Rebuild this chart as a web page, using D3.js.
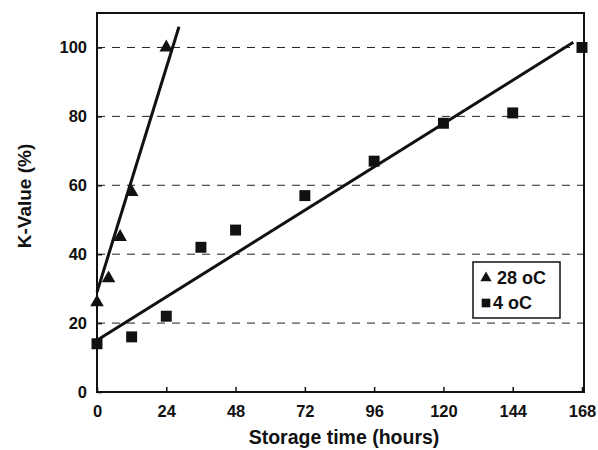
<!DOCTYPE html>
<html>
<head>
<meta charset="utf-8">
<title>K-Value vs storage time</title>
<script src="https://d3js.org/d3.v7.min.js"></script>
<style>
  body { margin: 0; background: #fff; }
  text { font-family: "Liberation Sans", Arial, sans-serif; font-weight: bold; fill: #111; }
</style>
</head>
<body>
<div id="main"></div>
<script>
	var width  = 598;
	var height = 450;
	var margin = {left: 97, top: 13, right: 14, bottom: 58};
	var innerWidth  = width - margin.left - margin.right;
	var innerHeight = height - margin.top - margin.bottom;

	// data
	var hours28 = [0, 4, 8, 12, 24];
	var kval28  = [26, 33, 45, 58, 100];
	var hours4  = [0, 12, 24, 36, 48, 72, 96, 120, 144, 168];
	var kval4   = [14, 16, 22, 42, 47, 57, 67, 78, 81, 100];
	// fitted lines as drawn (end points)
	var fit28 = [[0, 29], [28.4, 106]];
	var fit4  = [[0, 15], [165, 101.5]];
	var xTicks = [0, 24, 48, 72, 96, 120, 144, 168];
	var yTicks = [0, 20, 40, 60, 80, 100];
	var gridTicks = [20, 40, 60, 80, 100];

	var xScale = d3.scaleLinear().domain([0, 168]).range([0, innerWidth - 2]);
	var yScale = d3.scaleLinear().domain([0, 110]).range([innerHeight, 0]);

	var svg = d3.select("#main").append("svg")
		.attr("width", width)
		.attr("height", height);

	var g = svg.append("g")
		.attr("transform", "translate(" + margin.left + "," + margin.top + ")");

	// dashed gridlines
	g.selectAll(".grid").data(gridTicks).enter().append("line")
		.attr("x1", 0).attr("x2", innerWidth)
		.attr("y1", d => yScale(d)).attr("y2", d => yScale(d))
		.attr("stroke", "#222").attr("stroke-width", 1)
		.attr("stroke-dasharray", "8,7");

	// frame
	g.append("rect")
		.attr("width", innerWidth).attr("height", innerHeight)
		.attr("fill", "none").attr("stroke", "#111").attr("stroke-width", 2);

	// axes, ticks pointing inwards
	var xAxis = d3.axisBottom(xScale).tickValues(xTicks).tickSize(-5).tickPadding(13);
	var yAxis = d3.axisLeft(yScale).tickValues(yTicks).tickSize(-5).tickPadding(10);

	var gx = g.append("g").attr("transform", "translate(0," + innerHeight + ")").call(xAxis);
	var gy = g.append("g").call(yAxis);
	[gx, gy].forEach(function(a) {
		a.select(".domain").remove();
		a.selectAll(".tick line").attr("stroke", "#111").attr("stroke-width", 1.5);
		a.selectAll(".tick text").style("font-size", "16.5px")
			.style("font-family", "'Liberation Sans', Arial, sans-serif")
			.style("font-weight", "bold").attr("fill", "#111");
	});

	// fitted lines
	var line = d3.line().x(d => xScale(d[0])).y(d => yScale(d[1]));
	[fit28, fit4].forEach(function(f) {
		g.append("path").attr("d", line(f))
			.attr("fill", "none").attr("stroke", "#111").attr("stroke-width", 3);
	});

	// points
	var tri = d3.symbol().type(d3.symbolTriangle).size(80);
	var sq  = d3.symbol().type(d3.symbolSquare).size(120);

	g.selectAll(".t28").data(hours28.map((h, i) => [h, kval28[i]])).enter().append("path")
		.attr("d", tri)
		.attr("transform", d => "translate(" + xScale(d[0]) + "," + yScale(d[1]) + ")")
		.attr("fill", "#111");

	g.selectAll(".s4").data(hours4.map((h, i) => [h, kval4[i]])).enter().append("path")
		.attr("d", sq)
		.attr("transform", d => "translate(" + xScale(d[0]) + "," + yScale(d[1]) + ")")
		.attr("fill", "#111");

	// legend
	var lg = svg.append("g").attr("transform", "translate(473,262)");
	lg.append("rect").attr("width", 87).attr("height", 56)
		.attr("fill", "#fff").attr("stroke", "#111").attr("stroke-width", 1.5);
	lg.append("path").attr("d", d3.symbol().type(d3.symbolTriangle).size(55))
		.attr("transform", "translate(13,16)").attr("fill", "#111");
	lg.append("path").attr("d", d3.symbol().type(d3.symbolSquare).size(75))
		.attr("transform", "translate(13,41)").attr("fill", "#111");
	lg.append("text").attr("x", 24).attr("y", 22).style("font-size", "18px").text("28 oC");
	lg.append("text").attr("x", 20).attr("y", 47).style("font-size", "18px").text("4 oC");

	// axis titles
	svg.append("text")
		.attr("x", 344).attr("y", 444)
		.attr("text-anchor", "middle").style("font-size", "19.5px")
		.text("Storage time (hours)");

	svg.append("text")
		.attr("transform", "translate(31,196) rotate(-90)")
		.attr("text-anchor", "middle").style("font-size", "19px")
		.text("K-Value (%)");
</script>
</body>
</html>
